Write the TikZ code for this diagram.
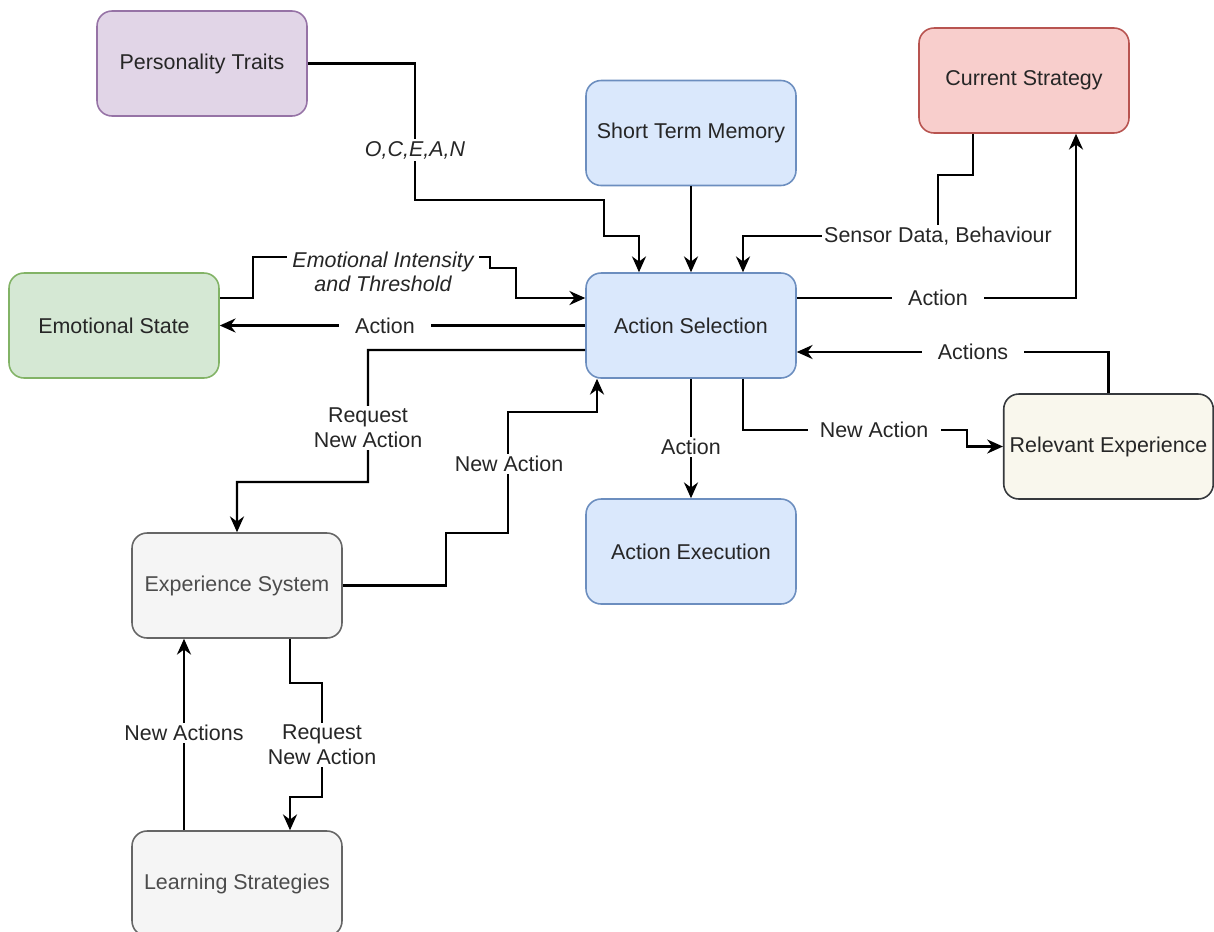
\documentclass[tikz,border=0pt]{standalone}
\usepackage{fontspec}
\setmainfont{Liberation Sans}
\usepackage{xcolor}
\usetikzlibrary{arrows.meta,calc}

\definecolor{lilacFill}{HTML}{E1D5E7}
\definecolor{lilacLine}{HTML}{9673A6}
\definecolor{blueFill}{HTML}{DAE8FC}
\definecolor{blueLine}{HTML}{6C8EBF}
\definecolor{redFill}{HTML}{F8CECC}
\definecolor{redLine}{HTML}{B85450}
\definecolor{greenFill}{HTML}{D5E8D4}
\definecolor{greenLine}{HTML}{82B366}
\definecolor{creamFill}{HTML}{F9F7ED}
\definecolor{creamLine}{HTML}{36393D}
\definecolor{greyFill}{HTML}{F5F5F5}
\definecolor{greyLine}{HTML}{666666}

\newcommand{\diafont}{\fontsize{12.2}{14}\selectfont}

\begin{document}
\begin{tikzpicture}[x=0.02cm, y=-0.02cm,
    every node/.style={font=\diafont},
    box/.style={draw, rounded corners=0.3cm, minimum width=4.2cm,
      minimum height=2.1cm, line width=0.9pt, text=black!85},
    link/.style={line width=1.3pt, -{Stealth[length=9pt,width=8pt]}},
    lbl/.style={fill=white, inner xsep=7pt, inner ysep=1pt, align=center, text=black!85}]
    \useasboundingbox (0,0) rectangle (1214,931);

    % Boxes
    \node[box, fill=lilacFill, draw=lilacLine] (pers) at (202,63.5) {Personality Traits};
    \node[box, fill=blueFill, draw=blueLine] (stm) at (691,133) {Short Term Memory};
    \node[box, fill=redFill, draw=redLine] (cur) at (1024,80.5) {Current Strategy};
    \node[box, fill=greenFill, draw=greenLine] (emo) at (114,325.5) {Emotional State};
    \node[box, fill=blueFill, draw=blueLine] (sel) at (691,325.5) {Action Selection};
    \node[box, fill=creamFill, draw=creamLine, minimum width=4.18cm] (rel) at (1108.5,446.5) {Relevant Experience};
    \node[box, fill=blueFill, draw=blueLine] (exe) at (691,551.5) {Action Execution};
    \node[box, fill=greyFill, draw=greyLine, text=black!70] (exs) at (237,585.5) {Experience System};
    \node[box, fill=greyFill, draw=greyLine, text=black!70] (lrn) at (237,883.5) {Learning Strategies};

    % Inputs to action selection
    \draw[link] (pers.east) -- (415,63.5) -- (415,200) -- (604,200) -- (604,236)
      -- (639,236) -- ($(sel.north)+(-52,0)$);
    \node[lbl, font=\diafont\itshape, inner xsep=2pt] (ocean) at (415,150) {O,C,E,A,N};
    \draw[link] (stm.south) -- (sel.north);
    \draw[link] ($(cur.south)+(-51,0)$) -- (973,175) -- (938,175) -- (938,236)
      -- (743,236) -- ($(sel.north)+(52,0)$);
    \node[lbl, inner xsep=1pt] (sensor) at (938,236) {Sensor Data, Behaviour};
    \draw[link] ($(emo.east)+(0,-27.5)$) -- (253,298) -- (253,257) -- (490,257)
      -- (490,268) -- (516,268) -- (516,298) -- ($(sel.west)+(0,-27.5)$);
    \node[lbl, font=\diafont\itshape, inner xsep=3pt] (intens) at (383,272) {Emotional Intensity\\and Threshold};

    % Outputs of action selection
    \draw[link] ($(sel.east)+(0,-27.5)$) -| ($(cur.south)+(52,0)$);
    \node[lbl, inner xsep=9pt] (actCur) at (938,298) {Action};
    \draw[link] (sel.west) -- (emo.east);
    \node[lbl, inner xsep=9pt] (actEmo) at (385,325.5) {Action};
    \draw[link] (sel.south) -- (exe.north);
    \node[lbl] (actExe) at (691,447) {Action};
    \draw[link] ($(sel.south)+(52,0)$) -- (743,430) -- (967,430) -- (967,446.5) -- (rel.west);
    \node[lbl] (newRel) at (874,430) {New Action};
    \draw[link] (rel.north) |- ($(sel.east)+(0,26.5)$);
    \node[lbl, inner xsep=9pt] (actsRel) at (973,352) {Actions};

    % Experience system loop
    \draw[link] ($(sel.west)+(0,24.5)$) -- (368,350) -- (368,482) -- (237,482) -- (exs.north);
    \node[lbl, inner xsep=2pt] (reqExs) at (368,428) {Request\\New Action};
    \draw[link] (exs.east) -- (446,585.5) -- (446,533) -- (508,533) -- (508,412)
      -- (597,412) -- ($(sel.south)+(-94,0)$);
    \node[lbl, inner xsep=2pt] (newSel) at (509,464) {New Action};
    \draw[link] ($(exs.south)+(53,0)$) -- (290,683) -- (322,683) -- (322,797)
      -- (290,797) -- ($(lrn.north)+(53,0)$);
    \node[lbl, inner xsep=2pt] (reqLrn) at (322,745) {Request\\New Action};
    \draw[link] ($(lrn.north)+(-53,0)$) -- ($(exs.south)+(-53,0)$);
    \node[lbl, inner xsep=2pt] (newExs) at (184,733) {New Actions};
\end{tikzpicture}
\end{document}
